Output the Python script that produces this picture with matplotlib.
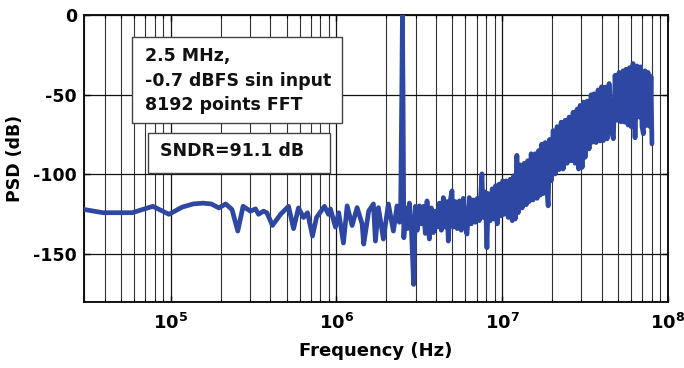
import numpy as np
import matplotlib
matplotlib.use("Agg")
import matplotlib.pyplot as plt
from matplotlib.patches import Rectangle

# ---------------- data ----------------
freq_mhz = [
    0.01953, 0.0391, 0.0586, 0.0781, 0.0977, 0.1172, 0.1367, 0.1563, 0.1758,
    0.1953, 0.2148, 0.2344, 0.2539, 0.2734, 0.303, 0.325, 0.339, 0.363,
    0.380, 0.392, 0.411, 0.460, 0.514, 0.551, 0.590, 0.633, 0.669, 0.717,
    0.758, 0.847, 0.895, 0.920, 0.986, 1.032, 1.102, 1.160, 1.243, 1.332,
    1.428, 1.460, 1.565, 1.671, 1.718, 1.791, 1.919, 2.057, 2.205, 2.321,
    2.396, 2.44, 2.48, 2.50, 2.52, 2.55,
    2.604, 2.677, 2.753, 2.830, 2.922, 2.991, 3.075, 3.162, 3.251, 3.343,
    3.437, 3.519, 3.634, 3.736, 3.841, 3.949, 4.060, 4.174, 4.292, 4.412,
    4.536, 4.632, 4.729, 4.862, 4.977, 5.068, 5.211, 5.357, 5.508, 5.663,
    5.822, 5.985, 6.128, 6.327, 6.505, 6.688, 6.876, 7.069, 7.268, 7.545,
    7.683, 7.898, 8.087, 8.234, 8.466, 8.704, 8.948, 9.136, 9.330, 9.592,
    9.862, 10.07,
    10.28, 10.57, 10.87, 11.17, 11.49, 11.73, 11.98, 12.26, 12.49, 12.84,
    13.20, 13.57, 13.95, 14.25, 14.54, 14.95, 15.37, 15.81, 16.25, 16.59,
    16.94, 17.30, 17.66, 18.16, 18.54, 18.93, 19.33, 19.73, 20.29, 20.86,
    21.44, 22.05, 22.67, 23.31, 23.96, 24.64, 25.33, 26.04, 26.77, 27.53,
    28.30, 28.90, 29.51, 30.34, 30.97, 31.62, 32.51, 33.43, 34.37, 35.09,
    35.83, 36.84, 37.87, 38.94, 39.76, 40.76, 41.74, 42.92, 44.12, 45.36,
    46.83, 47.95, 49.30, 50.68, 52.11, 53.57, 54.70, 55.85, 57.42, 58.63,
    59.85, 61.54, 63.27, 65.05, 66.88, 68.29, 69.72, 71.0, 72.68, 74.42,
    75.77, 77.90, 78.98, 80.0,
]
psd_db = [
    -118.7, -124, -124, -120, -125, -120.5, -118.5, -118, -118.5,
    -121, -118.5, -122, -135.5, -120, -123, -121.6, -125, -123,
    -124, -127, -132, -125, -120, -134, -121, -127, -124, -138.6,
    -127, -120, -125, -121.6, -133, -124, -143, -119.7, -132, -120.8,
    -131, -143.7, -123, -118.5, -141.8, -120.8, -140.5, -118.5, -135.5, -119.7,
    -130, -121, -45, 0, -45, -139.7,
    -121, -134, -118, -133, -169, -120, -135, -119.7, -131, -120,
    -137, -116.6, -140.5, -121, -136.5, -123, -133, -118, -135, -114.5,
    -133, -117, -141.8, -116, -110.3, -133, -117, -134, -116.6, -135,
    -115, -132, -137.4, -114.5, -131, -116, -130, -115, -129, -99.6,
    -127, -111, -146, -112, -129, -109, -128, -107, -131, -106,
    -126, -104,
    -125, -104, -127, -103, -129, -100.8, -128, -88, -124, -94,
    -121, -93, -119, -91.4, -117, -87, -116, -87, -115, -85,
    -113, -81, -112, -80, -108, -119.7, -78, -104, -72.5, -99.7,
    -70, -97, -67.2, -96.6, -66, -93, -64, -91.4, -61, -93,
    -59, -96.6, -56.7, -95.6, -54.6, -89.3, -54, -84, -50, -79.8,
    -49.4, -80, -47, -79, -45, -78.8, -45.2, -77.7, -43, -72,
    -77.6, -37.8, -66, -36, -67, -35, -67.2, -34, -69, -33,
    -70, -30.4, -77, -32, -64, -32.5, -70, -74.5, -35, -69.3,
    -36, -70, -38.5, -80.8,
]

xtick_exponents = [5, 6, 7, 8]
ytick_values = [0, -50, -100, -150]
ytick_labels = ["0", "-50", "-100", "-150"]
info_lines = ["2.5 MHz,", "-0.7 dBFS sin input", "8192 points FFT"]
sndr_text = "SNDR=91.1 dB"
x_label = "Frequency (Hz)"
y_label = "PSD (dB)"

# ---------------- style ----------------
plt.rcParams["font.family"] = ["DejaVu Sans"]
plt.rcParams["font.weight"] = "bold"
plt.rcParams["axes.unicode_minus"] = False
plt.rcParams["mathtext.fontset"] = "dejavusans"
plt.rcParams["path.simplify"] = False

line_color = "#2E47A2"

fig = plt.figure(figsize=(6.84, 3.68), dpi=100)
ax = fig.add_axes([84 / 684, 66 / 368, 584 / 684, 287 / 368])

freq_hz = np.array(freq_mhz) * 1e6
ax.plot(freq_hz, psd_db, color=line_color, lw=3.4, solid_joinstyle="round",
        solid_capstyle="round", antialiased=True, zorder=3)

ax.set_xscale("log")
ax.set_xlim(3e4, 1e8)
ax.set_ylim(-180, 0)

ax.set_xticks([10.0 ** e for e in xtick_exponents])
ax.set_xticklabels([r"$\mathbf{10}^{\mathbf{%d}}$" % e for e in xtick_exponents])
ax.set_yticks(ytick_values)
ax.set_yticklabels(ytick_labels)

ax.grid(which="major", axis="both", color="#111111", lw=0.9, zorder=1)
ax.grid(which="minor", axis="x", color="#333333", lw=0.8, zorder=1)
ax.set_axisbelow(True)

ax.tick_params(which="both", direction="in", top=True, right=True)
ax.tick_params(which="major", length=4, width=1.0)
ax.tick_params(which="minor", length=2, width=0.8)
ax.tick_params(axis="x", which="major", labelsize=13, pad=8)
ax.tick_params(axis="y", which="major", labelsize=12.5, pad=5)
for lab in ax.get_yticklabels():
    lab.set_fontweight("bold")

for sp in ax.spines.values():
    sp.set_linewidth(1.4)
    sp.set_color("#111111")

ax.set_xlabel(x_label, fontsize=13, fontweight="bold", labelpad=6)
ax.set_ylabel(y_label, fontsize=12.5, fontweight="bold")
ax.yaxis.set_label_coords(-0.102, 0.5)

# ---------------- annotation boxes ----------------
def afx(px):
    return (px - 84) / 584

def afy(py):
    return (302 - py) / 287

box1 = Rectangle((afx(132), afy(123)), afx(342) - afx(132), afy(37) - afy(123),
                 transform=ax.transAxes, facecolor="white", edgecolor="#444444",
                 lw=1.0, zorder=5)
ax.add_patch(box1)
for line, yc in zip(info_lines, [55.5, 80.5, 104.5]):
    ax.text(afx(145), afy(yc), line, transform=ax.transAxes, fontsize=12.5,
            fontweight="bold", ha="left", va="center", zorder=6, color="#111111")

box2 = Rectangle((afx(148), afy(173)), afx(330) - afx(148), afy(133) - afy(173),
                 transform=ax.transAxes, facecolor="white", edgecolor="#444444",
                 lw=1.0, zorder=5)
ax.add_patch(box2)
ax.text(afx(160), afy(151.5), sndr_text, transform=ax.transAxes, fontsize=12.5,
        fontweight="bold", ha="left", va="center", zorder=6, color="#111111")

fig.savefig("out.png", dpi=100)
